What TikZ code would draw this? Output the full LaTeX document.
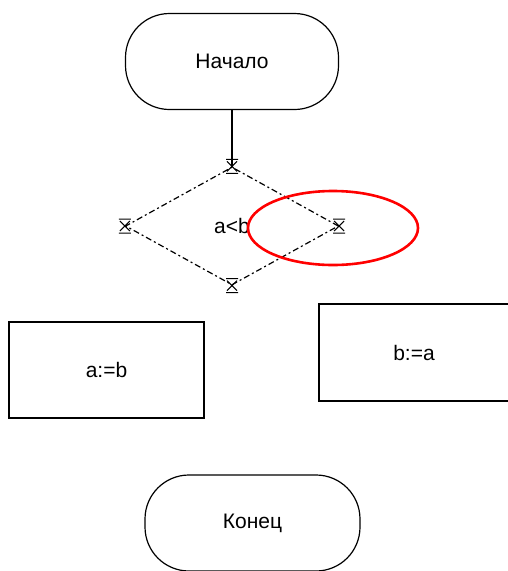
\documentclass[tikz,border=0pt]{standalone}
\usepackage{fontspec}
\setmainfont{Liberation Sans}
\usetikzlibrary{shapes.geometric}
\begin{document}
\begin{tikzpicture}[x=1pt,y=-1pt,
  every node/.style={font=\fontsize{21}{24}\selectfont},
  terminal/.style={draw, line width=1.2pt, rectangle, rounded corners=44pt, minimum width=#1, minimum height=96pt, inner sep=0pt},
  procbox/.style={draw, line width=1.3pt, rectangle, minimum width=195pt, minimum height=96pt, inner sep=0pt},
  decbox/.style={draw, line width=1.2pt, diamond, inner sep=0pt, minimum width=213pt, minimum height=118pt, dash pattern=on 6pt off 3pt on 2pt off 3pt},
  handle/.style={line width=1pt}
]
\useasboundingbox (0,0) rectangle (508,571);
\node[terminal=213pt] (start) at (232,61.5) {Начало};
\node[decbox] (dec) at (232,226) {a<b};
\node[procbox] (p1) at (106.5,370) {a:=b};
\node[procbox, minimum width=190pt, minimum height=97pt] (p2) at (414,352.5) {b:=a};
\node[terminal=215pt] (stop) at (252.5,523) {Конец};
\draw[line width=1.2pt] (start.south) -- (dec.north);
\foreach \v in {north,south,east,west}{
  \draw[handle] ([xshift=-6pt,yshift=7pt]dec.\v) -- ([xshift=6pt,yshift=7pt]dec.\v)
    ([xshift=-6pt,yshift=-7pt]dec.\v) -- ([xshift=6pt,yshift=-7pt]dec.\v)
    ([xshift=-5pt,yshift=5pt]dec.\v) -- ([xshift=5pt,yshift=-5pt]dec.\v)
    ([xshift=-5pt,yshift=-5pt]dec.\v) -- ([xshift=5pt,yshift=5pt]dec.\v);
}
\draw[red, line width=2.6pt] (333,228) ellipse [x radius=85, y radius=37];
\end{tikzpicture}
\end{document}
